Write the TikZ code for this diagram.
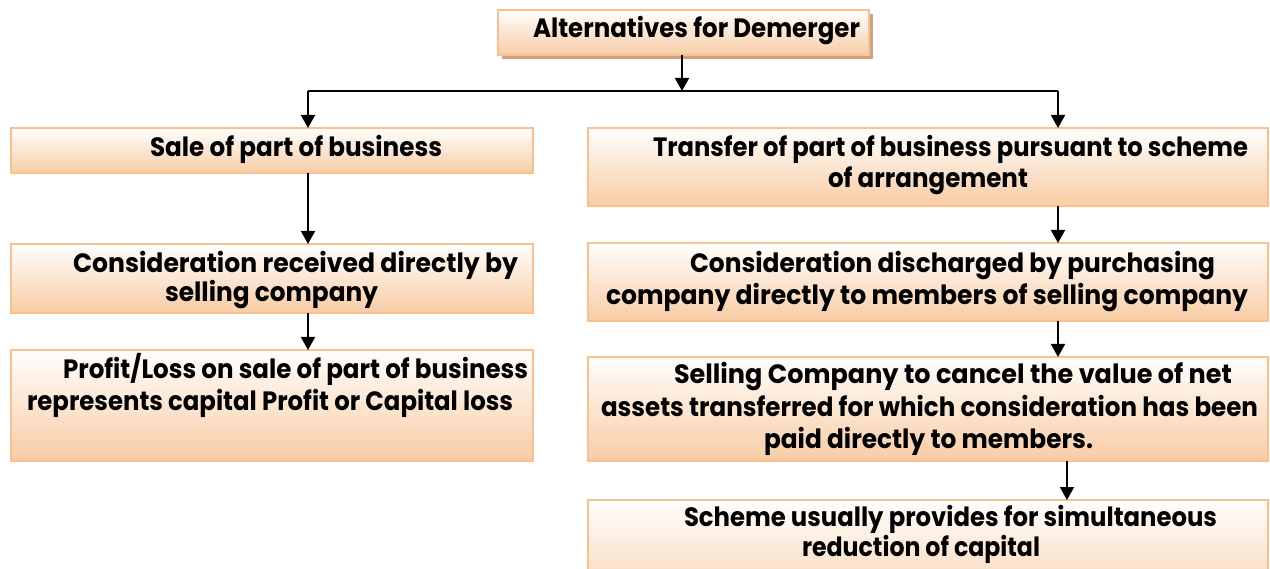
\documentclass[tikz,border=0pt]{standalone}
\usepackage{fontspec}
\setmainfont{Poppins}
\usetikzlibrary{arrows.meta}
\definecolor{bordc}{RGB}{250,192,143}
\definecolor{fillbot}{RGB}{248,204,164}
\definecolor{filltop}{RGB}{255,254,253}
\definecolor{shadc}{RGB}{204,164,126}
\tikzset{
  box/.style={draw=bordc, line width=2.5pt, top color=filltop, bottom color=fillbot,
    inner sep=0pt, outer sep=0pt, rectangle},
  shadowbox/.style={fill=shadc, inner sep=0pt, outer sep=0pt, rectangle},
  txt/.style={anchor=base west, inner sep=0pt, outer sep=0pt,
    font=\fontsize{26.5}{31}\selectfont\bfseries},
  conn/.style={line width=1.7pt, black},
  arr/.style={conn, -{Triangle[width=14pt,length=13pt]}},
}
\newcommand{\tline}[5]{\node[txt] (#1) at (#2,#3) {\resizebox{#4pt}{\height}{#5}};}
\begin{document}
\begin{tikzpicture}[x=1pt,y=-1pt]
\useasboundingbox (0,0) rectangle (1270,569);
% top box with shadow
\node[shadowbox, minimum width=371pt, minimum height=45pt] (topsh) at (687.5,36.5) {};
\node[box, minimum width=371pt, minimum height=45pt] (top) at (683.5,32.5) {};
% left column
\node[box, minimum width=522pt, minimum height=45pt] (L1) at (272,150.5) {};
\node[box, minimum width=522pt, minimum height=69pt] (L2) at (272,278.5) {};
\node[box, minimum width=522pt, minimum height=111pt] (L3) at (272,405.5) {};
% right column
\node[box, minimum width=680pt, minimum height=78pt] (R1) at (928,167) {};
\node[box, minimum width=680pt, minimum height=78pt] (R2) at (928,282) {};
\node[box, minimum width=680pt, minimum height=104pt] (R3) at (928,409) {};
\node[box, minimum width=680pt, minimum height=120pt] (R4) at (928,560) {};
% texts
\tline{ttop}{533}{38}{327}{Alternatives for Demerger}
\tline{tl1}{150}{157}{292}{Sale of part of business}
\tline{tl2a}{73}{273}{445}{Consideration received directly by}
\tline{tl2b}{165}{302}{213}{selling company}
\tline{tl3a}{63}{378}{465}{Profit/Loss on sale of part of business}
\tline{tl3b}{27}{410}{486}{represents capital Profit or Capital loss}
\tline{tr1a}{653}{157}{595}{Transfer of part of business pursuant to scheme}
\tline{tr1b}{828}{188}{200}{of arrangement}
\tline{tr2a}{690}{273}{525}{Consideration discharged by purchasing}
\tline{tr2b}{606}{305}{642}{company directly to members of selling company}
\tline{tr3a}{674}{384}{558}{Selling Company to cancel the value of net}
\tline{tr3b}{601}{417}{657}{assets transferred for which consideration has been}
\tline{tr3c}{764}{448}{329}{paid directly to members.}
\tline{tr4a}{684}{526}{533}{Scheme usually provides for simultaneous}
\tline{tr4b}{802}{556}{238}{reduction of capital}
% connectors
\coordinate (jn) at (682,91);
\coordinate (xl) at (308,91);
\coordinate (xr) at (1058,91);
\coordinate (xr2) at (1067,0);
\draw[arr] (top.south -| jn) -- (jn);
\draw[conn] (xl) -- (xr);
\draw[arr] (xl) -- (xl |- L1.north);
\draw[arr] (xr) -- (xr |- R1.north);
\draw[arr] (xl |- L1.south) -- (xl |- L2.north);
\draw[arr] (xl |- L2.south) -- (xl |- L3.north);
\draw[arr] (xr |- R1.south) -- (xr |- R2.north);
\draw[arr] (xr |- R2.south) -- (xr |- R3.north);
\draw[arr] (xr2 |- R3.south) -- (xr2 |- R4.north);
\end{tikzpicture}
\end{document}
